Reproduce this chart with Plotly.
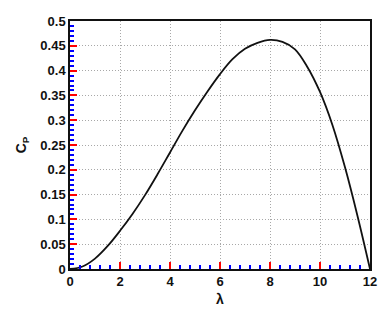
import plotly.graph_objects as go

# --- Data: power coefficient vs tip speed ratio ---
tsr = [0, 0.5, 1.0, 1.5, 2.0, 2.5, 3.0, 3.5, 4.0, 4.5, 5.0, 5.5, 6.0, 6.5,
       7.0, 7.5, 8.0, 8.5, 9.0, 9.5, 10.0, 10.5, 11.0, 11.5, 12.0]
cp = [0, 0.005, 0.021, 0.046, 0.077, 0.111, 0.149, 0.191, 0.235, 0.279, 0.32,
      0.358, 0.393, 0.423, 0.444, 0.456, 0.462, 0.458, 0.443, 0.407, 0.357,
      0.29, 0.205, 0.107, 0]

FONT_FAMILY = "Liberation Sans, Arial, sans-serif"
TICK_FONT = dict(family=FONT_FAMILY, size=13, color="#111111", weight="bold")
TITLE_FONT = dict(family=FONT_FAMILY, size=14, color="#111111", weight="bold")

fig = go.Figure()
fig.add_trace(go.Scatter(
    x=tsr, y=cp, mode="lines",
    line=dict(color="#111111", width=1.8, shape="spline", smoothing=1.0),
    showlegend=False, hoverinfo="skip"
))

axis_common = dict(
    showline=True, linecolor="#111111", linewidth=1.5, mirror=True,
    showgrid=True, gridcolor="#a8a8a8", gridwidth=1, griddash="1px,2px",
    zeroline=False, ticks="inside", ticklen=7, tickwidth=1.5, tickcolor="red",
    tickfont=TICK_FONT,
)

# page body has an 8px margin, so the figure is sized to fit the window
fig.update_layout(
    width=380, height=312, autosize=False,
    margin=dict(l=62, r=18, t=6, b=51),
    paper_bgcolor="white", plot_bgcolor="white",
    xaxis=dict(
        range=[0, 12], dtick=2,
        title=dict(text="λ", font=TITLE_FONT, standoff=6),
        minor=dict(dtick=0.4, ticks="inside", ticklen=4, tickwidth=1.5, tickcolor="blue"),
        **axis_common
    ),
    yaxis=dict(
        range=[0, 0.5001], dtick=0.05,
        title=dict(text="C<sub>P</sub>", font=TITLE_FONT, standoff=10),
        minor=dict(dtick=0.01, ticks="inside", ticklen=4, tickwidth=1.5, tickcolor="blue"),
        **axis_common
    ),
)

fig.write_html("out.html")
